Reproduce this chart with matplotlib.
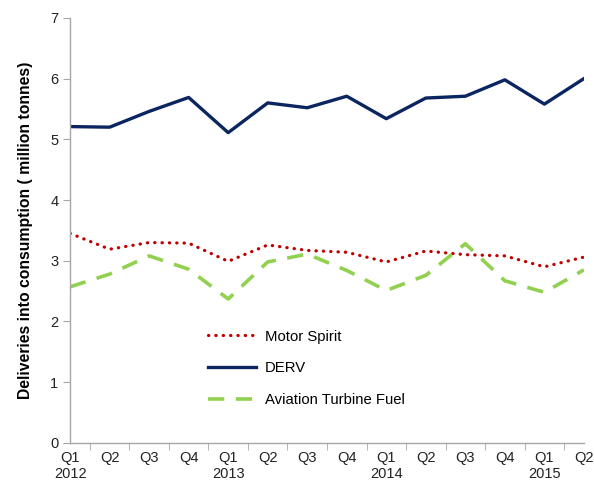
import numpy as np
import matplotlib
matplotlib.use('Agg')
import matplotlib.pyplot as plt
from matplotlib.ticker import FixedLocator

plt.rcParams['font.family'] = ['Liberation Sans', 'DejaVu Sans']

# quarters Q1 2012 .. Q2 2015
quarter_labels = ['Q1\n2012', 'Q2', 'Q3', 'Q4',
                  'Q1\n2013', 'Q2', 'Q3', 'Q4',
                  'Q1\n2014', 'Q2', 'Q3', 'Q4',
                  'Q1\n2015', 'Q2']

motor_spirit = [3.45, 3.19, 3.30, 3.29, 2.99, 3.26, 3.17, 3.14,
                2.98, 3.16, 3.10, 3.08, 2.90, 3.06]
derv = [5.21, 5.20, 5.46, 5.69, 5.11, 5.60, 5.52, 5.71,
        5.34, 5.68, 5.71, 5.98, 5.58, 6.00]
aviation = [2.57, 2.78, 3.08, 2.86, 2.37, 2.98, 3.11, 2.84,
            2.51, 2.76, 3.28, 2.67, 2.48, 2.85]

x = np.arange(len(quarter_labels))

fig = plt.figure(figsize=(5.94, 4.84), dpi=100)
ax = fig.add_axes([0.118, 0.085, 0.865, 0.878])

ax.plot(x, motor_spirit, color='#c00000', lw=2.3, linestyle=(0, (0.1, 2.2)),
        dash_capstyle='round', label='Motor Spirit')
ax.plot(x, derv, color='#0b2560', lw=2.4, label='DERV')
ax.plot(x, aviation, color='#92d050', lw=2.6, linestyle=(0, (4.5, 3.2)),
        label='Aviation Turbine Fuel')

ax.set_xlim(0, len(x) - 1)
ax.set_ylim(0, 7)
ax.set_yticks(range(0, 8))
ax.set_xticks(x)
ax.set_xticklabels(quarter_labels, fontsize=10.5, color='#222222')
ax.xaxis.set_minor_locator(FixedLocator(x[:-1] + 0.5))
ax.tick_params(axis='x', which='major', length=0, pad=6)
ax.tick_params(axis='x', which='minor', length=5, color='#a6a6a6', direction='out')
ax.tick_params(axis='y', length=5, color='#a6a6a6', labelsize=10.5, labelcolor='#222222')

for s in ['top', 'right']:
    ax.spines[s].set_visible(False)
for s in ['left', 'bottom']:
    ax.spines[s].set_color('#a6a6a6')
    ax.spines[s].set_linewidth(1.0)

ax.set_ylabel('Deliveries into consumption ( million tonnes)', fontsize=11.3,
              fontweight='bold', labelpad=12)

leg = ax.legend(loc='upper left', bbox_to_anchor=(0.243, 0.298), frameon=False,
                fontsize=10.7, handlelength=3.2, labelspacing=1.2, handletextpad=0.6)

fig.savefig('out.png', dpi=100)
